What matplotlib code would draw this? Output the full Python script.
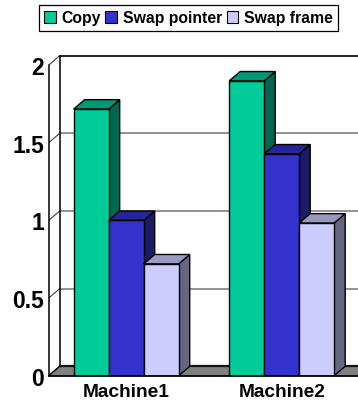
#!/usr/bin/env python3
import matplotlib
matplotlib.use('Agg')
import matplotlib.pyplot as plt
from matplotlib.patches import Patch, Polygon

plt.rcParams['font.family'] = ['Liberation Sans', 'DejaVu Sans']
plt.rcParams['font.weight'] = 'bold'

machines = ['Machine1', 'Machine2']
series = ['Copy', 'Swap pointer', 'Swap frame']
copy_vals = [1.717, 1.898]
pointer_vals = [1.0, 1.428]
frame_vals = [0.72, 0.983]
y_ticks = [0, 0.5, 1, 1.5, 2]
y_labels = ['0', '0.5', '1', '1.5', '2']

# front, side and top shades for each series
front = ['#00CC99', '#3333CC', '#CCCCFF']
side = ['#006650', '#1A1A66', '#666680']
top = ['#009973', '#262699', '#9999BF']

W, H = 358, 402
px_x = 155.5
px_y = 155.3
dx = 11 / px_x
dy = 9.4 / px_y
bar_w = 35 / px_x
gap = 25 / px_x

fig = plt.figure(figsize=(W / 100, H / 100), dpi=100)
left, bottom = 48.7, H - 376.7
ax = fig.add_axes([left / W, bottom / H, (W - left) / W, (376.7 - 45) / H])
ax.set_xlim(0, (W - left) / px_x)
ax.set_ylim(0, (376.7 - 45) / px_y)
ax.patch.set_alpha(0)

xmax = ax.get_xlim()[1]

# back wall, floor and gridlines
for t in y_ticks:
    col = 'black' if t == 2 else '#808080'
    ax.plot([dx, xmax], [t + dy, t + dy], color=col, lw=1.2, zorder=1)
    ax.plot([0, dx], [t, t + dy], color='#404040', lw=0.8, zorder=1)
ax.plot([dx, dx], [dy, 2 + dy], color='black', lw=1.1, zorder=1)
ax.add_patch(Polygon([(0, 0), (dx, dy), (xmax + dx, dy), (xmax, 0)],
                     facecolor='#808080', edgecolor='none', zorder=2))
ax.plot([dx, xmax], [dy, dy], color='#111111', lw=1.6, zorder=2)
ax.plot([0, dx], [0, dy], color='black', lw=1, zorder=2)

# bars, drawn as front face plus sheared side and top
all_vals = [copy_vals, pointer_vals, frame_vals]
for m in range(len(machines)):
    for s, vals in enumerate(all_vals):
        v = vals[m]
        x0 = m + gap + s * bar_w
        x1 = x0 + bar_w
        z = 3 + s
        ax.add_patch(Polygon([(x1, 0), (x1 + dx, dy), (x1 + dx, v + dy), (x1, v)],
                             facecolor=side[s], edgecolor='black', lw=1, zorder=z))
        ax.add_patch(Polygon([(x0, v), (x0 + dx, v + dy), (x1 + dx, v + dy), (x1, v)],
                             facecolor=top[s], edgecolor='black', lw=1, zorder=z))
        ax.add_patch(Polygon([(x0, 0), (x0, v), (x1, v), (x1, 0)],
                             facecolor=front[s], edgecolor='black', lw=1, zorder=z))

for name in ['top', 'right']:
    ax.spines[name].set_visible(False)
ax.spines['left'].set_bounds(0, 2)
ax.spines['left'].set_linewidth(1.1)
ax.spines['bottom'].set_linewidth(1.3)
for sp in ax.spines.values():
    sp.set_zorder(10)

ax.set_yticks(y_ticks)
ax.set_yticklabels(y_labels, fontsize=16.5, fontweight='bold')
ax.tick_params(axis='y', length=0, pad=3.5)
ax.set_xticks([0.5, 1.5])
ax.set_xticklabels(machines, fontsize=13.8, fontweight='bold')
ax.tick_params(axis='x', which='major', length=0, pad=5.5)
ax.set_xticks([1], minor=True)
ax.tick_params(axis='x', which='minor', direction='in', length=3.5, width=0.7)

handles = [Patch(facecolor=front[i], edgecolor='black', lw=0.8) for i in range(3)]
leg = fig.legend(handles, series, ncol=3, loc='center',
                 bbox_to_anchor=(188.5 / W, 1 - 19 / H),
                 fontsize=11.3, frameon=True, fancybox=False, framealpha=1,
                 edgecolor='black', handlelength=0.75, handleheight=0.75,
                 handletextpad=0.35, columnspacing=0.3, borderpad=0.33,
                 borderaxespad=0)
leg.get_frame().set_linewidth(0.9)
for txt in leg.get_texts():
    txt.set_fontweight('bold')

fig.savefig('out.png', dpi=100)
